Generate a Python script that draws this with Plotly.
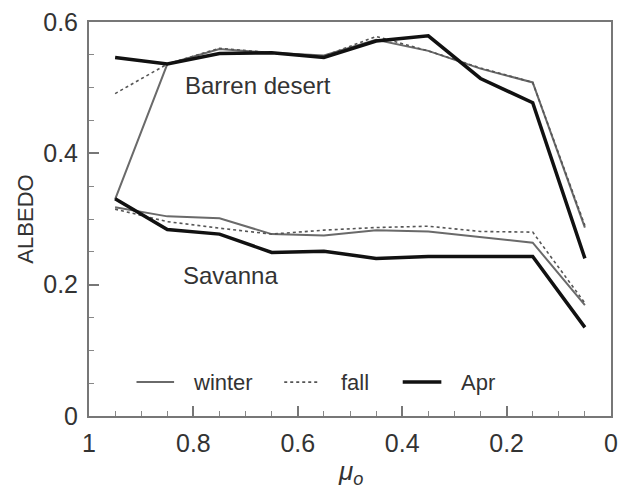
import plotly.graph_objects as go

mu = [0.95, 0.85, 0.75, 0.65, 0.55, 0.45, 0.35, 0.25, 0.15, 0.05]

desert_winter = [0.330, 0.536, 0.559, 0.553, 0.549, 0.573, 0.556, 0.529, 0.508, 0.287]
desert_fall = [0.491, 0.536, 0.560, 0.553, 0.548, 0.578, 0.556, 0.530, 0.508, 0.290]
desert_apr = [0.546, 0.536, 0.552, 0.553, 0.546, 0.571, 0.579, 0.514, 0.477, 0.240]

savanna_winter = [0.318, 0.304, 0.301, 0.277, 0.275, 0.283, 0.281, 0.272, 0.264, 0.169]
savanna_fall = [0.315, 0.296, 0.286, 0.277, 0.283, 0.287, 0.289, 0.281, 0.280, 0.172]
savanna_apr = [0.331, 0.284, 0.277, 0.249, 0.251, 0.240, 0.243, 0.243, 0.243, 0.135]

series_names = ["winter", "fall", "Apr"]
x_ticks = [1, 0.8, 0.6, 0.4, 0.2, 0]
x_tick_labels = ["1", "0.8", "0.6", "0.4", "0.2", "0"]
x_minor_ticks = [0.95, 0.9, 0.85, 0.75, 0.7, 0.65, 0.55, 0.5, 0.45,
                 0.35, 0.3, 0.25, 0.15, 0.1, 0.05]
y_ticks = [0, 0.2, 0.4, 0.6]
y_tick_labels = ["0", "0.2", "0.4", "0.6"]
y_minor_ticks = [0.05, 0.1, 0.15, 0.25, 0.3, 0.35, 0.45, 0.5, 0.55]

styles = {
    "winter": dict(color="#6a6a6a", width=2),
    "fall": dict(color="#555555", width=1.6, dash="dot"),
    "Apr": dict(color="#111111", width=3.5),
}

# legend placement (paper coords): line start, line end, text start
legend_pos = {
    "winter": (0.091, 0.163, 0.196),
    "fall": (0.374, 0.442, 0.478),
    "Apr": (0.601, 0.675, 0.709),
}
legend_y = 0.086

FONT = "Liberation Sans, Arial, Helvetica, sans-serif"

fig = go.Figure()
data = {
    "winter": (desert_winter, savanna_winter),
    "fall": (desert_fall, savanna_fall),
    "Apr": (desert_apr, savanna_apr),
}
for name in series_names:
    d, s = data[name]
    fig.add_trace(go.Scatter(x=mu, y=d, mode="lines", name=name + " (Barren desert)",
                             line=styles[name], showlegend=False))
    fig.add_trace(go.Scatter(x=mu, y=s, mode="lines", name=name + " (Savanna)",
                             line=styles[name], showlegend=False))
    x0, x1, xt = legend_pos[name]
    st = styles[name]
    fig.add_shape(type="line", xref="paper", yref="paper", x0=x0, x1=x1,
                  y0=legend_y, y1=legend_y,
                  line=dict(color=st["color"], width=st["width"], dash=st.get("dash", "solid")))
    fig.add_annotation(xref="paper", yref="paper", x=xt, y=legend_y, xanchor="left",
                       yanchor="middle", text=name, showarrow=False,
                       font=dict(size=22, color="#333", family=FONT))

fig.add_annotation(x=0.677, y=0.503, text="Barren desert", showarrow=False,
                   font=dict(size=24, color="#333", family=FONT))
fig.add_annotation(x=0.728, y=0.214, text="Savanna", showarrow=False,
                   font=dict(size=24, color="#333", family=FONT))

fig.add_annotation(xref="paper", yref="paper", x=0.5, y=-0.097, yanchor="top",
                   text="<i>μ</i><sub><i>o</i></sub>", showarrow=False,
                   font=dict(size=26, color="#333", family=FONT))

minor_style = dict(ticks="inside", ticklen=5, tickcolor="#888", tickwidth=1.2,
                   showgrid=False, tickmode="array")

fig.update_layout(
    width=626, height=486,
    margin=dict(l=89, r=8, t=21, b=70),
    paper_bgcolor="white", plot_bgcolor="white",
    font=dict(family=FONT, size=24, color="#333"),
    showlegend=False,
    xaxis=dict(range=[1, 0], tickmode="array", tickvals=x_ticks, ticktext=x_tick_labels,
               showgrid=False, zeroline=False, showline=True, mirror=True,
               linecolor="#777", linewidth=2, ticks="inside", ticklen=10,
               tickcolor="#777", tickwidth=1.5,
               tickfont=dict(size=25, color="#333"),
               minor=dict(tickvals=x_minor_ticks, **minor_style),
               ticklabelstandoff=4),
    yaxis=dict(range=[0, 0.6], tickmode="array", tickvals=y_ticks, ticktext=y_tick_labels,
               showgrid=False, zeroline=False, showline=True, mirror=True,
               linecolor="#777", linewidth=2, ticks="inside", ticklen=10,
               tickcolor="#777", tickwidth=1.5,
               tickfont=dict(size=25, color="#333"),
               minor=dict(tickvals=y_minor_ticks, **minor_style),
               ticklabelstandoff=4,
               title=dict(text="ALBEDO", font=dict(size=22, color="#333"), standoff=4)),
)

fig.write_html("out.html")
